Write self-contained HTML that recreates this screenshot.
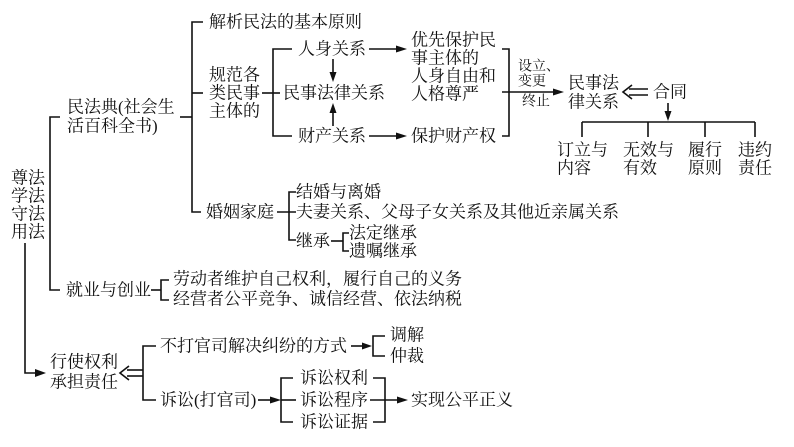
<!DOCTYPE html>
<html><head><meta charset="utf-8"><style>
html,body{margin:0;padding:0;background:#fff;}
svg{display:block;}
text{font-family:"Liberation Serif","Noto Serif CJK SC",serif;font-size:17px;fill:#111;dominant-baseline:central;}
.s{font-size:14px;}
line,polyline{stroke:#111;stroke-width:1.6;fill:none;}
polygon{fill:#111;stroke:none;}
</style></head><body>
<svg width="794" height="447" viewBox="0 0 794 447" xmlns="http://www.w3.org/2000/svg">
<!-- root -->
<text x="11" y="178">尊法</text>
<text x="11" y="196">学法</text>
<text x="11" y="214">守法</text>
<text x="11" y="232">用法</text>
<polyline points="60,117 50,117 50,290 60,290"/>
<polyline points="25,243 25,373 36,373"/>
<polygon points="46,373 35,369 35,377"/>

<!-- 民法典 -->
<text x="67" y="107">民法典(社会生</text>
<text x="67" y="126">活百科全书)</text>
<line x1="180" y1="117" x2="192" y2="117"/>
<polyline points="203,22 192,22 192,212 201,212"/>
<line x1="192" y1="93" x2="203" y2="93"/>
<text x="209" y="22">解析民法的基本原则</text>
<text x="209" y="75">规范各</text>
<text x="209" y="93">类民事</text>
<text x="209" y="111">主体的</text>
<line x1="262" y1="93" x2="273" y2="93"/>
<polyline points="292,49 273,49 273,136 292,136"/>
<line x1="273" y1="93" x2="280" y2="93"/>
<text x="298" y="49">人身关系</text>
<text x="283" y="93">民事法律关系</text>
<text x="298" y="136">财产关系</text>
<line x1="333" y1="59" x2="333" y2="74"/>
<polygon points="333,82 329.5,72 336.5,72"/>
<line x1="333" y1="126" x2="333" y2="111"/>
<polygon points="333,103 329.5,113 336.5,113"/>
<line x1="369" y1="49" x2="398" y2="49"/>
<polygon points="407,49 396,45.5 396,52.5"/>
<line x1="369" y1="136" x2="398" y2="136"/>
<polygon points="407,136 396,132.5 396,139.5"/>
<text x="411" y="40">优先保护民</text>
<text x="411" y="58">事主体的</text>
<text x="411" y="76">人身自由和</text>
<text x="411" y="94">人格尊严</text>
<text x="411" y="136">保护财产权</text>
<polyline points="502,49 509,49 509,136 502,136"/>
<line x1="502" y1="92" x2="555" y2="92"/>
<polygon points="564,92 553,88.5 553,95.5"/>
<text class="s" x="518" y="67">设立、</text>
<text class="s" x="518" y="82">变更</text>
<text class="s" x="522" y="102">终止</text>
<text x="568" y="83">民事法</text>
<text x="568" y="102">律关系</text>
<line x1="629" y1="89" x2="648" y2="89"/>
<line x1="629" y1="95" x2="648" y2="95"/>
<polyline points="632,85 623,92 632,99"/>
<text x="653" y="92">合同</text>
<line x1="668" y1="103" x2="668" y2="113"/>
<polygon points="668,121 664.5,111 671.5,111"/>
<line x1="582" y1="122" x2="755" y2="122"/>
<line x1="582" y1="122" x2="582" y2="137"/>
<line x1="648" y1="122" x2="648" y2="137"/>
<line x1="705" y1="122" x2="705" y2="137"/>
<line x1="755" y1="122" x2="755" y2="137"/>
<text x="557" y="150">订立与</text>
<text x="557" y="168">内容</text>
<text x="623" y="150">无效与</text>
<text x="623" y="168">有效</text>
<text x="688" y="150">履行</text>
<text x="688" y="168">原则</text>
<text x="738" y="150">违约</text>
<text x="738" y="168">责任</text>

<!-- 婚姻家庭 -->
<text x="206" y="212">婚姻家庭</text>
<line x1="277" y1="212" x2="296" y2="212"/>
<polyline points="296,192 289,192 289,240 296,240"/>
<text x="296" y="192">结婚与离婚</text>
<text x="296" y="212">夫妻关系、父母子女关系及其他近亲属关系</text>
<text x="296" y="241">继承</text>
<line x1="331" y1="241" x2="343" y2="241"/>
<polyline points="349,233 343,233 343,251 349,251"/>
<text x="349" y="233">法定继承</text>
<text x="349" y="251">遗嘱继承</text>

<!-- 就业与创业 -->
<text x="66" y="290">就业与创业</text>
<line x1="151" y1="290" x2="161" y2="290"/>
<polyline points="169,280 161,280 161,300 169,300"/>
<text x="173" y="279">劳动者维护自己权利，履行自己的义务</text>
<text x="173" y="299">经营者公平竞争、诚信经营、依法纳税</text>

<!-- 行使权利 -->
<text x="50" y="362">行使权利</text>
<text x="50" y="382">承担责任</text>
<line x1="127" y1="370" x2="143" y2="370"/>
<line x1="127" y1="376" x2="143" y2="376"/>
<polyline points="129,366 120,373 129,380"/>
<polyline points="156,346 143,346 143,400 156,400"/>
<text x="160" y="346">不打官司解决纠纷的方式</text>
<line x1="351" y1="346" x2="364" y2="346"/>
<polygon points="372,346 362,342.5 362,349.5"/>
<polyline points="385,336 373,336 373,356 385,356"/>
<text x="390" y="335">调解</text>
<text x="390" y="356">仲裁</text>
<text x="160" y="400">诉讼(打官司)</text>
<line x1="258" y1="400" x2="272" y2="400"/>
<polygon points="281,400 270,396.5 270,403.5"/>
<polyline points="293,378 281,378 281,422 293,422"/>
<line x1="281" y1="400" x2="296" y2="400"/>
<text x="300" y="378">诉讼权利</text>
<text x="300" y="400">诉讼程序</text>
<text x="300" y="422">诉讼证据</text>
<polyline points="373,378 385,378 385,422 373,422"/>
<line x1="370" y1="400" x2="399" y2="400"/>
<polygon points="408,400 397,396.5 397,403.5"/>
<text x="411" y="400">实现公平正义</text>
</svg>
</body></html>
